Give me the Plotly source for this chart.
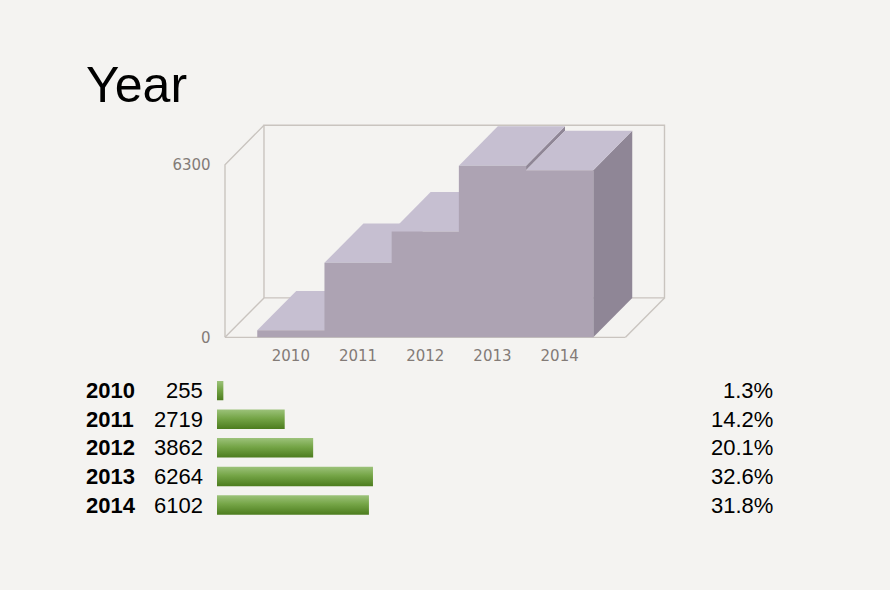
import plotly.graph_objects as go

# data
years = ["2010", "2011", "2012", "2013", "2014"]
counts = [255, 2719, 3862, 6264, 6102]
y_ticks = [0, 6300]
bar_max = 7000

W, H = 890, 590
bg = "#f4f3f1"
frame_col = "#c9c4bf"
front_col = "#ada3b3"
top_col = "#c6bfd1"
side_col = "#8f8696"
tick_col = "#837b77"

n = len(years)
y_top = y_ticks[-1]
dx = 0.58      # depth offset (category units)
dy = 1440      # depth offset (value units)
pad = 0.48
xl, xr = -0.5 - pad, n - 0.5 + pad

fig = go.Figure()


def poly(xs, ys, fill, xa="x", ya="y", grad=None):
    fig.add_trace(go.Scatter(
        x=list(xs) + [xs[0]], y=list(ys) + [ys[0]], mode="lines", fill="toself",
        fillcolor=fill, fillgradient=grad, line=dict(width=0), hoverinfo="skip",
        showlegend=False, xaxis=xa, yaxis=ya))


# frame: back panel, floor, left wall
fx = [xl + dx, xr + dx, xr + dx, xl + dx, xl + dx, None,
      xl, xr, None, xl, xl + dx, None, xr, xr + dx, None,
      xl, xl, xl + dx]
fy = [dy, dy, y_top + dy, y_top + dy, dy, None,
      0, 0, None, 0, dy, None, 0, dy, None,
      0, y_top, y_top + dy]
fig.add_trace(go.Scatter(x=fx, y=fy, mode="lines", line=dict(color=frame_col, width=1.4),
                         hoverinfo="skip", showlegend=False))

# right side faces where a step drops
nxt = counts[1:] + [0]
for i, v in enumerate(counts):
    lo = nxt[i]
    if v > lo:
        poly([i + 0.5, i + 0.5 + dx, i + 0.5 + dx, i + 0.5],
             [lo, lo + dy, v + dy, v], side_col)

# top faces
for i, v in enumerate(counts):
    poly([i - 0.5, i - 0.5 + dx, i + 0.5 + dx, i + 0.5],
         [v, v + dy, v + dy, v], top_col)

# front face of the step area
sx, sy = [-0.5], [0]
for i, v in enumerate(counts):
    sx += [i - 0.5, i + 0.5]
    sy += [v, v]
sx.append(n - 0.5)
sy.append(0)
poly(sx, sy, front_col)

# table bars
h = 0.34
for i, v in enumerate(counts):
    poly([0, v, v, 0], [i - h, i - h, i + h, i + h], "#6a9a3a", xa="x2", ya="y2",
         grad=dict(type="vertical", colorscale=[[0, "#4c7c1e"], [0.55, "#75a547"], [1, "#9cc27a"]]))

total = sum(counts)
font = "Liberation Sans, Arial, sans-serif"
ann = [dict(text="Year", x=84 / W, y=1 - 117 / H, xref="paper", yref="paper",
            xanchor="left", yanchor="bottom", showarrow=False,
            font=dict(family=font, size=50, color="#000000"))]
for i, v in enumerate(counts):
    ann.append(dict(text="<b>%s</b>" % years[i], x=84 / W, y=i, xref="paper", yref="y2",
                    xanchor="left", showarrow=False, font=dict(family=font, size=22, color="#000")))
    ann.append(dict(text=str(v), x=205 / W, y=i, xref="paper", yref="y2",
                    xanchor="right", showarrow=False, font=dict(family=font, size=22, color="#000")))
    ann.append(dict(text="%.1f%%" % (100.0 * v / total), x=775 / W, y=i, xref="paper", yref="y2",
                    xanchor="right", showarrow=False, font=dict(family=font, size=22, color="#000")))

# pixel layout
ux = 67.2
uy = 175.0 / 6300
x_rng = [xl - 0.05, xr + dx + 0.05]
y_rng = [-60, y_top + dy + 60]
x0 = 225 - 0.05 * ux
x1 = x0 + (x_rng[1] - x_rng[0]) * ux
yb = 342 + 60 * uy
yt = yb - (y_rng[1] - y_rng[0]) * uy

bx0 = 217
bx1 = bx0 + bar_max * 0.0249
by0, by1 = 381.5, 526.5

tick_font = dict(family="DejaVu Sans, Verdana, sans-serif", size=15, color=tick_col)
fig.update_layout(
    width=W, height=H, margin=dict(l=0, r=0, t=0, b=0),
    paper_bgcolor=bg, plot_bgcolor="rgba(0,0,0,0)",
    annotations=ann,
    xaxis=dict(domain=[x0 / W, x1 / W], range=x_rng, tickvals=list(range(n)), ticktext=years,
               showgrid=False, zeroline=False, showline=False, tickfont=tick_font,
               ticklabelstandoff=6, fixedrange=True),
    yaxis=dict(domain=[1 - yb / H, 1 - yt / H], range=y_rng, tickvals=y_ticks,
               ticktext=[str(t) for t in y_ticks], showgrid=False, zeroline=False,
               showline=False, tickfont=tick_font, ticklabelstandoff=10, fixedrange=True),
    xaxis2=dict(domain=[bx0 / W, bx1 / W], range=[0, bar_max], visible=False, anchor="y2"),
    yaxis2=dict(domain=[1 - by1 / H, 1 - by0 / H], range=[n - 0.5, -0.5], visible=False, anchor="x2"),
)

page_js = ("document.body.style.margin='0';"
           "document.body.style.height='590px';"
           "document.body.style.overflow='hidden';"
           "document.documentElement.style.overflow='hidden';"
           "document.body.style.background='%s';" % bg)
fig.write_html("out.html", config={"displayModeBar": False}, post_script=page_js)
